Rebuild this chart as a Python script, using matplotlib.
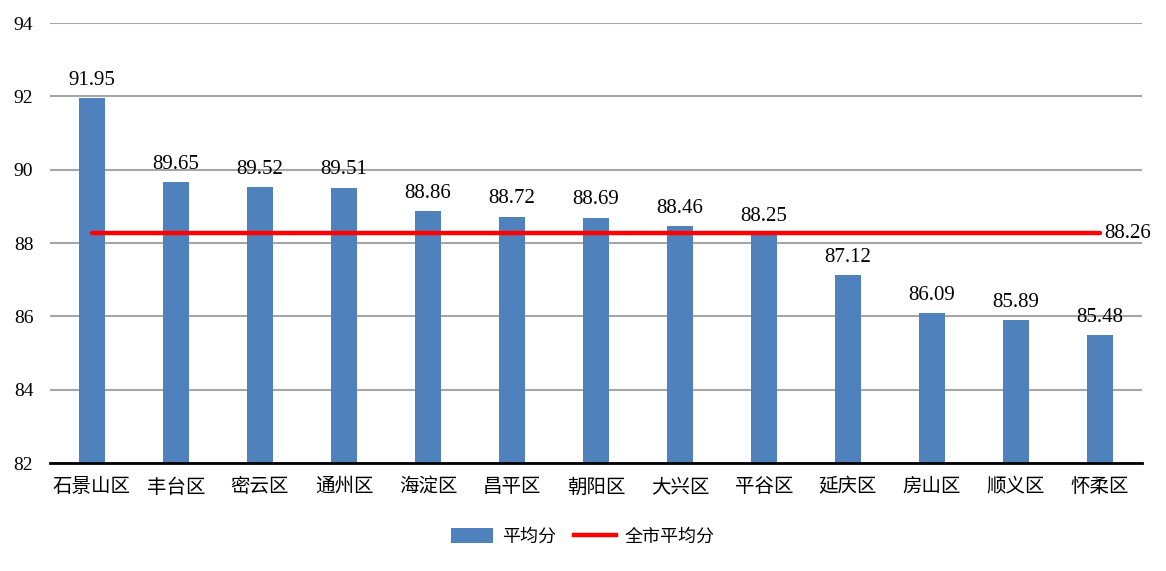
import matplotlib
matplotlib.use("Agg")
import matplotlib.pyplot as plt
from matplotlib.patches import Patch
from matplotlib.lines import Line2D

districts = ["石景山区", "丰台区", "密云区", "通州区", "海淀区", "昌平区", "朝阳区",
             "大兴区", "平谷区", "延庆区", "房山区", "顺义区", "怀柔区"]
avg_scores = [91.95, 89.65, 89.52, 89.51, 88.86, 88.72, 88.69,
              88.46, 88.25, 87.12, 86.09, 85.89, 85.48]
city_avg = 88.26
yticks = [82, 84, 86, 88, 90, 92, 94]

FONT = ["Liberation Serif", "Noto Sans CJK SC", "DejaVu Sans"]
plt.rcParams["font.family"] = FONT

fig = plt.figure(figsize=(11.66, 5.71), dpi=100)
ax = fig.add_axes([50/1166, 1-463/571, (1142-50)/1166, (463-23)/571])

x = list(range(len(districts)))
bar_color = "#4F81BD"
ax.bar(x, [v - yticks[0] for v in avg_scores], bottom=yticks[0], width=0.32,
       color=bar_color, zorder=2)
ax.plot([x[0], x[-1]], [city_avg, city_avg], color="#FF0000", lw=3.2,
        solid_capstyle="round", zorder=3)

for xi, v in zip(x, avg_scores):
    ax.annotate(f"{v:.2f}", (xi, v), xytext=(0, 6), textcoords="offset points",
                ha="center", va="bottom", fontsize=15, color="black")
ax.annotate(f"{city_avg:.2f}", (x[-1], city_avg), xytext=(3, 0),
            textcoords="offset points", ha="left", va="center",
            fontsize=15, color="black", annotation_clip=False)

ax.set_xlim(-0.5, len(districts) - 0.5)
ax.set_ylim(yticks[0], yticks[-1])
ax.set_yticks(yticks)
ax.set_yticklabels([str(t) for t in yticks], fontsize=14)
ax.set_xticks(x)
ax.set_xticklabels(districts, fontsize=14)
ax.tick_params(axis="both", length=0)
ax.tick_params(axis="y", pad=12)
ax.tick_params(axis="x", pad=11)

ax.grid(axis="y", color="#A6A6A6", lw=1.5, zorder=0)
for s in ["left", "right", "top"]:
    ax.spines[s].set_visible(False)
ax.spines["bottom"].set_color("black")
ax.spines["bottom"].set_linewidth(2)
ax.spines["bottom"].set_zorder(4)

handles = [Patch(facecolor=bar_color, edgecolor="none"),
           Line2D([0], [0], color="#FF0000", lw=3.2)]
fig.legend(handles, ["平均分", "全市平均分"], loc="center",
           bbox_to_anchor=(583/1166, 1-537/571), ncol=2, frameon=False,
           fontsize=13, handlelength=2.3, handleheight=0.9,
           handletextpad=0.5, columnspacing=1.0)

fig.savefig("out.png", dpi=100)
